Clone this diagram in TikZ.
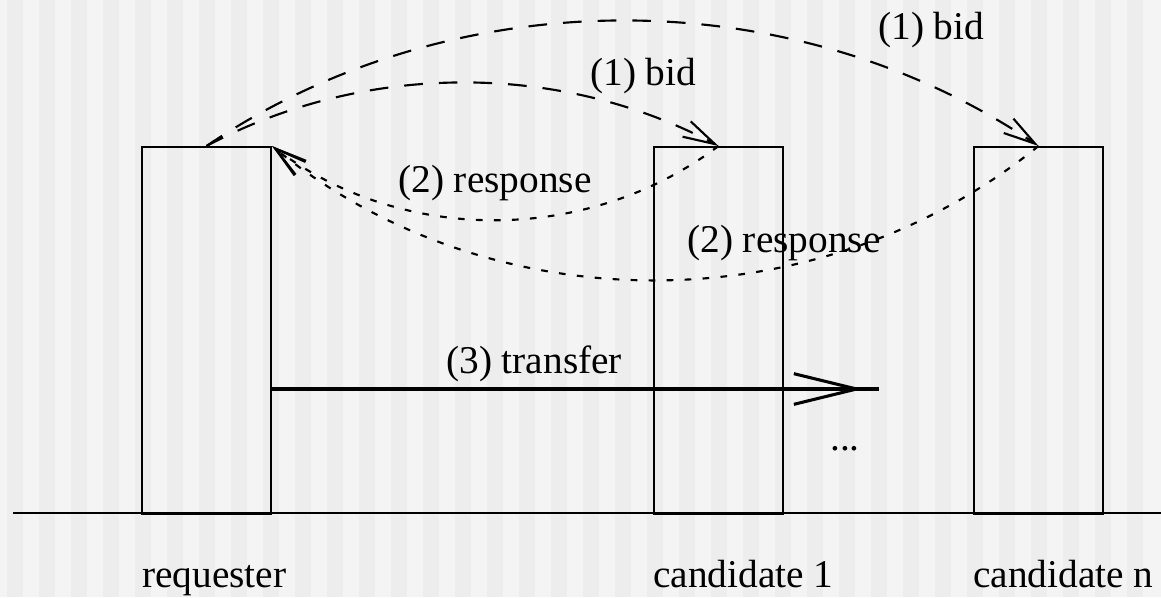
\documentclass[tikz,border=0pt]{standalone}
\usepackage{fontspec}
\setmainfont{Liberation Serif}
\usetikzlibrary{arrows.meta}
\definecolor{paper}{HTML}{F4F4F4}
\definecolor{stripe}{HTML}{EDEDED}

\begin{document}
\begin{tikzpicture}[x=0.75pt,y=-0.75pt,font=\fontsize{29.5}{35}\selectfont,
    host/.style={draw,line width=1.5pt,inner sep=0pt,anchor=north west,
                 minimum width=96.75pt,minimum height=275.25pt},
    tag/.style={anchor=base west,inner sep=0pt},
    bid/.style={-{Straight Barb[length=24pt,width=13pt]},line width=1.6pt,
                dash pattern=on 14pt off 12pt},
    resp/.style={-{Straight Barb[length=24pt,width=13pt]},line width=1.6pt,
                 dash pattern=on 5pt off 8.5pt},
    move/.style={-{Straight Barb[length=47pt,width=23pt]},line width=2.3pt}]
  \useasboundingbox (0,0) rectangle (1161,597);
  % striped backdrop
  \fill[paper] (0,0) rectangle (1161,597);
  \foreach \i in {0,...,35} \fill[stripe] ({7+32*\i},0) rectangle ++(16,597);

  \node[host] (req)   at (141,146) {};
  \node[host] (cand1) at (653,146) {};
  \node[host] (candn) at (973,146) {};
  \draw[line width=1.5pt] (13,513) -- (1161,513);

  \node[tag] (lreq)   at (142,587) {requester};
  \node[tag] (lcand1) at (653,587) {candidate 1};
  \node[tag] (lcandn) at (973,587) {candidate n};

  % (1) bids
  \draw[bid] (req.north) to[out=28,in=152,looseness=0.9] (cand1.north);
  \draw[bid] (req.north) to[out=34,in=146,looseness=0.92] (candn.north);
  \node[tag] (bid1) at (590,85) {(1) bid};
  \node[tag] (bidn) at (878,39) {(1) bid};

  % (2) responses
  \draw[resp] (cand1.north) to[out=217,in=-37,looseness=0.94] (req.north east);
  \draw[resp] (candn.north) to[out=219,in=-39,looseness=0.95] (req.north east);
  \node[tag] (resp1) at (398,192) {(2) response};
  \node[tag] (respn) at (687,252) {(2) response};

  % (3) transfer
  \coordinate (tend) at (863,389);
  \draw[move] (req.east |- tend) -- (tend);
  \draw[line width=2.3pt] (tend) ++(-14,0) -- ++(30,0);
  \node[tag] (xfer) at (446,373) {(3) transfer};
  \node[anchor=base,inner sep=0pt] (more) at (845,450) {...};
\end{tikzpicture}
\end{document}
